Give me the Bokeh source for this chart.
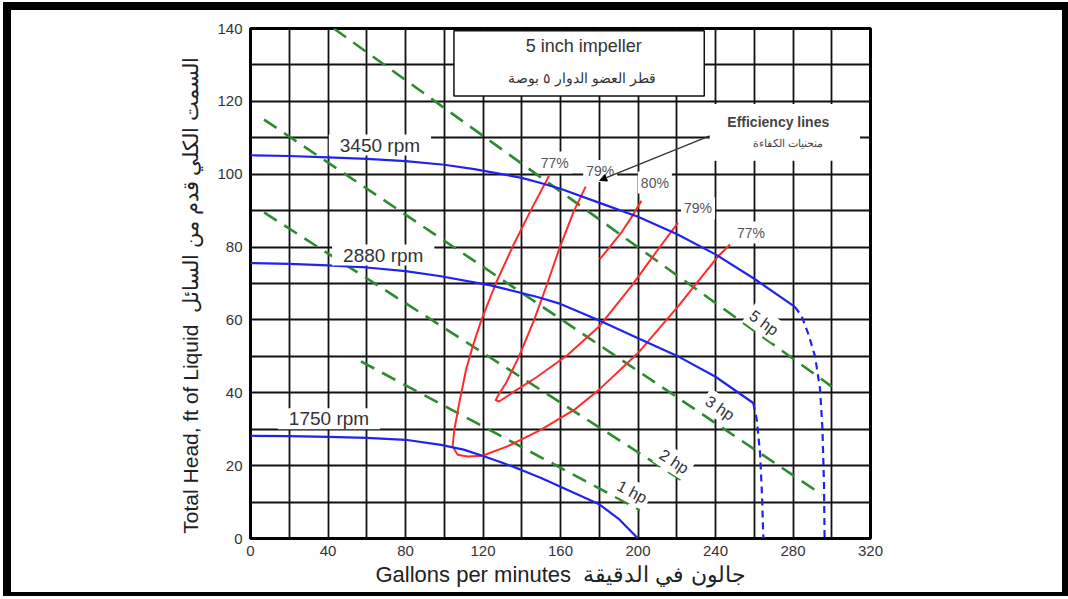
import math

from bokeh.embed import file_html
from bokeh.layouts import column
from bokeh.models import Arrow, FixedTicker, Label, NormalHead, Range1d
from bokeh.plotting import figure
from bokeh.resources import INLINE

# ---- axes -------------------------------------------------------------
x_ticks = [0, 40, 80, 120, 160, 200, 240, 280, 320]
y_ticks = [0, 20, 40, 60, 80, 100, 120, 140]
x_grid = list(range(0, 321, 20))
y_grid = list(range(0, 141, 10))

# ---- head / capacity curves (gpm, ft) --------------------------------
rpm3450_q = [0, 20, 40, 60, 80, 100, 115.5, 140, 149.8, 160, 179.8, 200, 220, 240, 260, 281]
rpm3450_h = [105.2, 105.0, 104.6, 104.2, 103.6, 102.6, 101.4, 99.0, 97.6, 96.0, 92.2, 88.3, 83.6, 78.0, 71.3, 63.6]
rpm3450_tail_q = [281, 284.5, 288, 291.4, 294, 295.2, 296, 296.3]
rpm3450_tail_h = [63.6, 61.0, 56.0, 50.0, 40.8, 30.0, 15.0, 0.0]

rpm2880_q = [0, 20, 40, 60, 80, 98.3, 124, 148.1, 160, 179.8, 200, 220, 240, 259.5]
rpm2880_h = [75.6, 75.4, 75.0, 74.4, 73.4, 72.0, 69.5, 66.3, 64.4, 59.9, 55.0, 50.2, 44.4, 37.2]
rpm2880_tail_q = [259.5, 261.3, 263.0, 264.0, 264.7]
rpm2880_tail_h = [37.2, 32.6, 23.4, 12.0, 0.0]

rpm1750_q = [0, 20, 40, 60, 80, 98.3, 110, 119.7, 130, 139.5, 150, 160, 170, 180, 190, 200]
rpm1750_h = [28.2, 28.1, 27.9, 27.6, 27.1, 25.7, 24.4, 22.7, 20.8, 18.9, 16.6, 14.2, 11.8, 9.4, 5.4, 0.0]

rpm_labels = ["3450 rpm", "2880 rpm", "1750 rpm"]
rpm_label_q = [66.8, 68.5, 40.5]
rpm_label_h = [108.0, 77.8, 32.9]

# ---- efficiency contours ---------------------------------------------
eff77_q = [154.1, 144.6, 135.2, 126.6, 119.2, 114.6, 111.2, 107.7, 105.2, 104.3,
           106.9, 112.0, 119.7, 132.6, 149.8, 167.0, 179.8, 200.0, 220.7, 241.4, 247.5]
eff77_h = [99.6, 90.0, 80.0, 70.0, 60.0, 52.6, 46.2, 37.1, 29.8, 25.3,
           23.0, 22.5, 22.7, 25.3, 29.8, 35.3, 40.8, 50.9, 63.7, 77.5, 80.7]

eff79_q = [173.0, 167.0, 159.7, 153.2, 146.4, 138.6, 131.8, 127.5, 126.6, 128.3,
           136.0, 148.0, 163.5, 179.8, 196.6, 210.4, 220.7]
eff79_h = [96.6, 90.0, 80.0, 70.0, 60.0, 50.0, 42.6, 39.0, 38.0, 37.6,
           40.3, 44.4, 50.3, 58.1, 69.3, 79.4, 86.7]

eff80_q = [180.2, 186.0, 191.7, 197.0, 201.8]
eff80_h = [76.6, 80.4, 84.2, 88.5, 92.7]

eff_labels = ["77%", "79%", "80%", "79%", "77%"]
eff_label_q = [157.0, 180.5, 208.7, 231.0, 258.3]
eff_label_h = [103.2, 100.9, 97.7, 90.6, 84.0]

# ---- brake horsepower lines ------------------------------------------
hp_names = ["5 hp", "3 hp", "2 hp", "1 hp"]
hp_q = [[43, 300], [7, 295], [7, 222.5], [57, 201]]
hp_h = [[140, 41.7], [115, 12.0], [89.5, 16.0], [48.6, 7.8]]
hp_label_q = [265.0, 242.3, 218.6, 197.0]
hp_label_h = [59.2, 35.8, 21.1, 12.8]

# ---- page geometry ---------------------------------------------------
LEFT, RIGHT, TOP, BOTTOM = 239, 192, 18, 54
FRAME_W, FRAME_H = 620, 510

FONT = "Liberation Sans"
BLUE = "#2222ee"
RED = "#ff2b2b"
GREEN = "#2e8a2e"
INK = "#333333"
NBSP = "\u00a0"

p = figure(frame_width=FRAME_W, frame_height=FRAME_H,
           x_range=Range1d(0, 320), y_range=Range1d(0, 140),
           output_backend="svg", toolbar_location=None,
           min_border_left=LEFT, min_border_right=RIGHT,
           min_border_top=TOP, min_border_bottom=BOTTOM)
p.background_fill_color = "white"
p.border_fill_color = "white"
p.outline_line_color = "black"
p.outline_line_width = 3

p.xgrid.ticker = FixedTicker(ticks=x_grid)
p.ygrid.ticker = FixedTicker(ticks=y_grid)
p.grid.grid_line_color = "#111111"
p.grid.grid_line_width = 1.8

p.xaxis.ticker = FixedTicker(ticks=x_ticks)
p.yaxis.ticker = FixedTicker(ticks=y_ticks)
for ax in (p.xaxis, p.yaxis):
    ax.axis_line_color = None
    ax.major_tick_line_color = None
    ax.minor_tick_line_color = None
    ax.major_tick_in = 0
    ax.major_tick_out = 0
    ax.minor_tick_in = 0
    ax.minor_tick_out = 0
    ax.major_label_text_font = FONT
    ax.major_label_text_font_size = "15px"
    ax.major_label_text_color = INK
    ax.axis_label_text_font = FONT
    ax.axis_label_text_font_style = "normal"
    ax.axis_label_text_color = "#222222"
p.xaxis.major_label_standoff = 7
p.yaxis.major_label_standoff = 8

# bilingual axis titles
p.yaxis.axis_label = ("Total Head, ft of Liquid " + NBSP +
                      "السمت الكلي قدم من السائل" + NBSP * 4)
p.yaxis.axis_label_text_font_size = "21px"
p.yaxis.axis_label_standoff = 12
p.xaxis.axis_label = "Gallons per minutes" + NBSP * 2 + "جالون في الدقيقة"
p.xaxis.axis_label_text_font_size = "22px"
p.xaxis.axis_label_standoff = 3

# title box and the white panel behind the efficiency note
p.quad(left=[105], right=[234.2], bottom=[121.5], top=[139.4],
       fill_color="white", line_color="#111111", line_width=1.5)
p.quad(left=[237], right=[314.6], bottom=[103.7], top=[119.3],
       fill_color="white", line_color=None)

# horsepower lines
for q, h in zip(hp_q, hp_h):
    p.line(q, h, line_color=GREEN, line_width=2.6, line_dash="15 9")

# efficiency contours
for q, h in ((eff77_q, eff77_h), (eff79_q, eff79_h), (eff80_q, eff80_h)):
    p.line(q, h, line_color=RED, line_width=2, line_join="round")

# pump curves
for q, h in ((rpm3450_q, rpm3450_h), (rpm2880_q, rpm2880_h), (rpm1750_q, rpm1750_h)):
    p.line(q, h, line_color=BLUE, line_width=2.2, line_join="round")
for q, h in ((rpm3450_tail_q, rpm3450_tail_h), (rpm2880_tail_q, rpm2880_tail_h)):
    p.line(q, h, line_color=BLUE, line_width=2.2, line_dash="7 5")

sx = FRAME_W / 320.0
sy = FRAME_H / 140.0


def add_label(x, y, text, size, color=INK, angle=0.0, pad=None, style="normal"):
    lab = Label(x=x, y=y, text=text, text_font=FONT, text_font_size=size,
                text_color=color, text_align="center", text_baseline="middle",
                angle=angle, angle_units="deg", text_font_style=style)
    if pad is not None:
        lab.background_fill_color = "white"
        lab.padding = pad
    p.add_layout(lab)


for t, q, h in zip(rpm_labels, rpm_label_q, rpm_label_h):
    add_label(q, h, t, "19px", pad=dict(left=11, right=11, top=0, bottom=0))

for t, q, h in zip(eff_labels, eff_label_q, eff_label_h):
    add_label(q, h, t, "14px", color="#555555", pad=3)

for t, q, h, lq, lh in zip(hp_names, hp_label_q, hp_label_h, hp_q, hp_h):
    slope = (lh[1] - lh[0]) / (lq[1] - lq[0])
    ang = math.degrees(math.atan(slope * sy / sx))
    add_label(q, h, t, "16px", angle=ang, pad=3)

add_label(172.0, 135.1, "5 inch impeller", "18px")
add_label(171.1, 126.5, "قطر العضو الدوار ٥ بوصة", "14px")

add_label(272.4, 114.3, "Efficiency lines", "14px", color="#444444", style="bold")
add_label(277.2, 108.5, "منحنيات الكفاءة", "11px", color="#444444")

p.add_layout(Arrow(x_start=237, y_start=110.5, x_end=180.2, y_end=98.3,
                   line_color="#333333", line_width=1.3,
                   end=NormalHead(size=7, fill_color="black", line_color="black")))

page = column(p, styles={"border-style": "solid", "border-color": "black",
                         "border-width": "8px 6px 4px 8px",
                         "margin-left": "3px", "margin-top": "2px"})

open("out.html", "w").write(file_html(page, INLINE))
